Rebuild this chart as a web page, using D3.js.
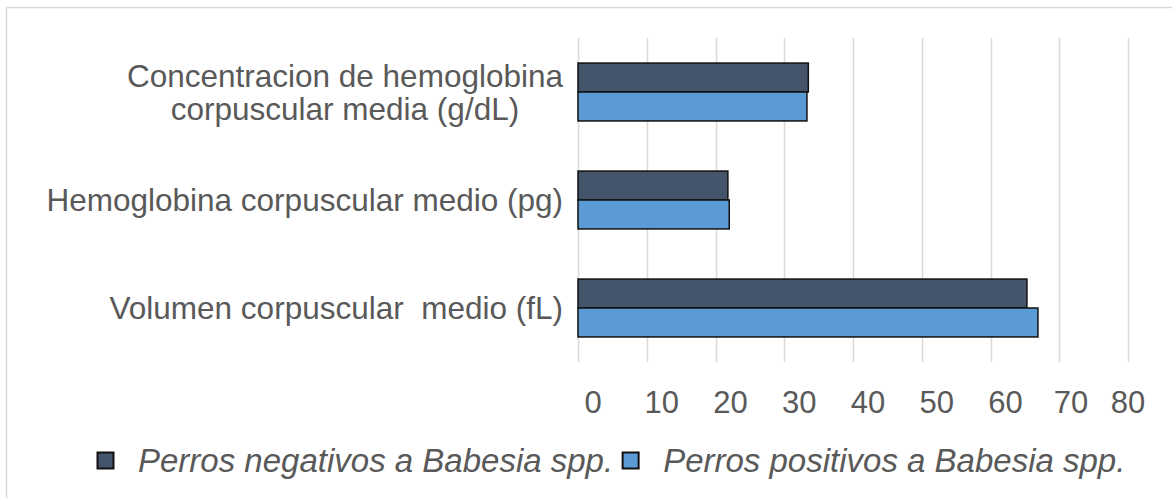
<!DOCTYPE html>
<html>
<head>
<meta charset="utf-8">
<script src="https://cdn.jsdelivr.net/npm/d3@7/dist/d3.min.js"></script>
<style>
  html, body { margin: 0; padding: 0; background: #ffffff; }
  svg { display: block; }
  text { font-family: "Liberation Sans", Arial, sans-serif; fill: #595959; white-space: pre; }
</style>
</head>
<body>
<svg id="chart" width="1172" height="498"></svg>
<script>
// ---- data ----
const categories = ["CHCM", "HCM", "VCM"];
const categoryLines = [
  ["Concentracion de hemoglobina", "corpuscular media (g/dL)"],
  ["Hemoglobina corpuscular medio (pg)"],
  ["Volumen corpuscular  medio (fL)"]
];
const seriesNames = ["Perros negativos a Babesia spp.", "Perros positivos a Babesia spp."];
const negativos = [33.5, 21.8, 65.3];
const positivos = [33.3, 22.0, 66.9];
const tickValues = [0, 10, 20, 30, 40, 50, 60, 70, 80];
const seriesColors = ["#44546a", "#5b9bd5"];

// ---- layout ----
const W = 1172, H = 498;
const plot = { left: 578, right: 1128, top: 38, bottom: 362 };
const svg = d3.select("#chart");

// outer frame
svg.append("rect")
  .attr("x", 6.5).attr("y", 7.5)
  .attr("width", W + 20).attr("height", H + 20)
  .attr("fill", "none").attr("stroke", "#d9d9d9").attr("stroke-width", 1.5);

const x = d3.scaleLinear().domain([0, 80]).range([plot.left, plot.right]);
const y = d3.scaleBand().domain(categories).range([plot.top, plot.bottom])
  .paddingInner(0.464).paddingOuter(0.232);
const ySub = d3.scaleBand().domain([0, 1]).range([0, y.bandwidth()]);

// gridlines
svg.append("g").selectAll("line").data(tickValues).join("line")
  .attr("x1", d => Math.round(x(d)) + 0.5).attr("x2", d => Math.round(x(d)) + 0.5)
  .attr("y1", plot.top).attr("y2", plot.bottom)
  .attr("stroke", "#d9d9d9").attr("stroke-width", 1.5);

// tick labels
svg.append("g").selectAll("text").data(tickValues).join("text")
  .attr("x", d => Math.min(x(d) + 15, x(80) - (80 - d) / 10 * 57))
  .attr("y", 413)
  .attr("text-anchor", "middle")
  .attr("font-size", 31)
  .text(d => d);

// bars
const series = [negativos, positivos];
const barData = [];
categories.forEach((c, i) => {
  series.forEach((s, j) => barData.push({ cat: c, si: j, v: s[i] }));
});
svg.append("g").selectAll("rect").data(barData).join("rect")
  .attr("x", x(0))
  .attr("y", d => y(d.cat) + ySub(d.si))
  .attr("width", d => x(d.v) - x(0))
  .attr("height", ySub.bandwidth())
  .attr("fill", d => seriesColors[d.si])
  .attr("stroke", "#111")
  .attr("stroke-width", 1.5);

// category labels
const labelRight = 563;
const lineH = 33;
categories.forEach((c, i) => {
  const lines = categoryLines[i];
  const g = svg.append("g");
  const cy = y(c) + y.bandwidth() / 2;
  const texts = lines.map((l, k) => g.append("text")
    .attr("font-size", 31.5)
    .attr("text-anchor", "middle")
    .attr("y", cy + (k - (lines.length - 1) / 2) * lineH + 11)
    .text(l));
  const maxW = d3.max(texts, t => t.node().getComputedTextLength());
  texts.forEach(t => t.attr("x", labelRight - maxW / 2));
});

// legend
const leg = svg.append("g");
let lx = 97;
seriesNames.forEach((name, j) => {
  leg.append("rect")
    .attr("x", lx + 0.5).attr("y", 452.5).attr("width", 16).attr("height", 16)
    .attr("fill", seriesColors[j]).attr("stroke", "#111").attr("stroke-width", 2);
  const t = leg.append("text")
    .attr("x", lx + 41).attr("y", 472)
    .attr("font-size", 33)
    .attr("font-style", "italic")
    .text(name);
  lx += 41 + t.node().getComputedTextLength() + 9;
});
</script>
</body>
</html>
